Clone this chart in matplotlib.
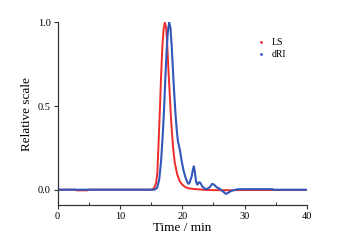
import numpy as np
import matplotlib.pyplot as plt
from matplotlib.lines import Line2D
from matplotlib.ticker import MultipleLocator

# LS (light scattering) trace
ls_time = [0.0, 2.9, 3.0, 4.8, 4.9, 15.0, 15.5, 15.8, 16.0, 16.2, 16.4, 16.6, 16.8,
           17.0, 17.2, 17.4, 17.6, 17.8, 18.0, 18.2, 18.5, 18.8, 19.2, 19.6,
           20.0, 20.5, 21.0, 22.0, 23.0, 24.0, 26.0, 28.0, 30.0, 35.0, 39.8]
ls_value = [0.0, 0.0, -0.004, -0.004, 0.0, 0.0, 0.01, 0.04, 0.1, 0.28, 0.47, 0.68, 0.85,
            0.96, 1.0, 0.97, 0.86, 0.7, 0.56, 0.42, 0.26, 0.16, 0.09, 0.05,
            0.03, 0.015, 0.008, 0.004, 0.001, -0.002, -0.003, -0.003, -0.002, -0.002, -0.002]

# dRI (differential refractive index) trace
dri_time = [0.0, 15.5, 15.8, 16.0, 16.3, 16.6, 16.9, 17.1, 17.3, 17.5, 17.7, 17.9,
            18.1, 18.3, 18.5, 18.7, 18.9, 19.1, 19.3, 19.6, 19.9, 20.2, 20.5, 20.8,
            21.0, 21.2, 21.5, 21.7, 21.85, 22.0, 22.2, 22.4, 22.7, 22.9, 23.2, 23.6,
            24.0, 24.4, 24.8, 25.1, 25.5, 26.0, 26.5, 27.0, 27.3, 27.7, 28.2, 28.8,
            29.0, 34.5, 34.6, 39.8]
dri_value = [0.0, 0.0, 0.005, 0.015, 0.06, 0.17, 0.35, 0.5, 0.68, 0.84, 0.95, 1.0,
             0.97, 0.86, 0.72, 0.58, 0.46, 0.36, 0.29, 0.24, 0.17, 0.115, 0.075, 0.045,
             0.035, 0.045, 0.08, 0.12, 0.14, 0.11, 0.05, 0.03, 0.045, 0.04, 0.02, 0.005,
             0.005, 0.015, 0.035, 0.03, 0.015, 0.005, -0.01, -0.025, -0.02, -0.01, -0.003, 0.002,
             0.003, 0.003, 0.0, 0.0]

RED = '#ee2c2c'
BLUE = '#3057b9'

plt.rcParams['font.family'] = ['Liberation Serif', 'DejaVu Serif']

fig = plt.figure(figsize=(3.55, 2.41), dpi=100)
ax = fig.add_axes([0.162, 0.149, 0.703, 0.758])

ax.plot(ls_time, ls_value, color=RED, lw=1.4)
ax.plot(dri_time, dri_value, color=BLUE, lw=1.5)

ax.set_xlim(0, 40)
ax.set_ylim(-0.092, 1.0)
ax.xaxis.set_major_locator(MultipleLocator(10))
ax.xaxis.set_minor_locator(MultipleLocator(5))
ax.yaxis.set_major_locator(MultipleLocator(0.5))
ax.yaxis.set_minor_locator(MultipleLocator(0.25))
ax.tick_params(which='major', direction='out', length=3, width=0.8, labelsize=7.5,
               color='#333333', pad=2)
ax.tick_params(axis='x', which='minor', direction='in', length=2, width=0.7, color='#333333')
ax.tick_params(axis='y', which='minor', length=0)

for side in ('top', 'right'):
    ax.spines[side].set_visible(False)
for side in ('left', 'bottom'):
    ax.spines[side].set_linewidth(0.9)
    ax.spines[side].set_color('#333333')

ax.set_xlabel('Time / min', fontsize=9.5, labelpad=1)
ax.set_ylabel('Relative scale', fontsize=9.5, labelpad=3)

handles = [Line2D([], [], color=RED, marker='.', markersize=2, linestyle='none'),
           Line2D([], [], color=BLUE, marker='.', markersize=2, linestyle='none')]
ax.legend(handles, ['LS', 'dRI'], loc='upper left', bbox_to_anchor=(0.76, 0.96),
          frameon=False, fontsize=7, handlelength=1.0, handletextpad=0.6,
          labelspacing=0.3)

fig.savefig('out.png', dpi=100)
